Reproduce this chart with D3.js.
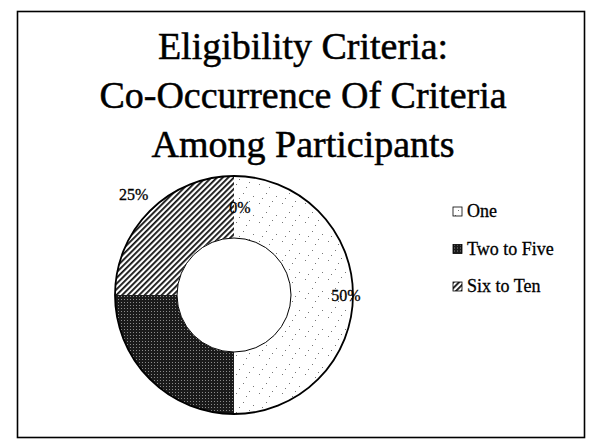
<!DOCTYPE html>
<html>
<head>
<meta charset="utf-8">
<script src="https://cdn.jsdelivr.net/npm/d3@7"></script>
<style>
  body { margin: 0; background: #fff; }
  svg { display: block; }
  text { font-family: "Liberation Serif", "Times New Roman", serif; fill: #000; }
</style>
</head>
<body>
<div id="chart"></div>
<script>
// chart values
var titleLines = ["Eligibility Criteria:", "Co-Occurrence Of Criteria", "Among Participants"];
var categories = ["", "One", "Two to Five", "Six to Ten"];   // first one is the empty 0% slice
var values = [0, 50, 25, 25];
var legendItems = ["One", "Two to Five", "Six to Ten"];

var W = 591, H = 444;
var svg = d3.select("#chart").append("svg")
    .attr("width", W)
    .attr("height", H);

var defs = svg.append("defs");

// light speckle for "One"
var pOne = defs.append("pattern").attr("id", "pOne")
    .attr("patternUnits", "userSpaceOnUse").attr("width", 23).attr("height", 19);
pOne.append("rect").attr("width", 23).attr("height", 19).attr("fill", "#fff");
[[2, 3], [15, 1], [9, 12], [19, 15], [5, 17], [12, 6]].forEach(function (p) {
    pOne.append("rect").attr("x", p[0]).attr("y", p[1]).attr("width", 1).attr("height", 1).attr("fill", "#777");
});

// dark dotted fill for "Two to Five"
var pTwo = defs.append("pattern").attr("id", "pTwo")
    .attr("patternUnits", "userSpaceOnUse").attr("width", 3).attr("height", 3);
pTwo.append("rect").attr("width", 3).attr("height", 3).attr("fill", "#1a1a1a");
pTwo.append("rect").attr("x", 1).attr("y", 1).attr("width", 1).attr("height", 1).attr("fill", "#8a8a8a");

// diagonal hatch for "Six to Ten"
var pSix = defs.append("pattern").attr("id", "pSix")
    .attr("patternUnits", "userSpaceOnUse").attr("width", 4).attr("height", 4)
    .attr("patternTransform", "rotate(45)");
pSix.append("rect").attr("width", 4).attr("height", 4).attr("fill", "#fff");
pSix.append("rect").attr("width", 1.8).attr("height", 4).attr("fill", "#111");

var fills = d3.scaleOrdinal()
    .domain(categories)
    .range(["#fff", "url(#pOne)", "url(#pTwo)", "url(#pSix)"]);

// frame
svg.append("rect")
    .attr("x", 17.5).attr("y", 11.5)
    .attr("width", 567).attr("height", 426)
    .attr("fill", "none")
    .attr("stroke", "#000")
    .attr("stroke-width", 1.6);

// title
svg.append("g").selectAll("text")
    .data(titleLines)
    .join("text")
    .attr("x", 303)
    .attr("y", function (d, i) { return 59 + i * 49; })
    .attr("text-anchor", "middle")
    .attr("font-size", 38)
    .style("stroke", "#000")
    .style("stroke-width", 0.5)
    .text(function (d) { return d; });

// donut
var cx = 234, cy = 295, outerR = 119, innerR = 57;
var pie = d3.pie().sort(null).value(function (d) { return d.value; });
var slices = pie(categories.map(function (c, i) { return { name: c, value: values[i] }; }));
var arc = d3.arc().innerRadius(innerR).outerRadius(outerR);

var g = svg.append("g").attr("transform", "translate(" + cx + "," + cy + ")");
g.selectAll("path.slice")
    .data(slices.filter(function (d) { return d.data.value > 0; }))
    .join("path")
    .attr("class", "slice")
    .attr("d", arc)
    .attr("fill", function (d) { return fills(d.data.name); });

g.append("circle").attr("r", outerR).attr("fill", "none").attr("stroke", "#000").attr("stroke-width", 1.8);
g.append("circle").attr("r", innerR).attr("fill", "#fff").attr("stroke", "#000").attr("stroke-width", 1);

// labels: where each one sits along its slice
var labelR = { "": 88, "One": 112, "Two to Five": 88, "Six to Ten": 142 };
g.selectAll("text.lbl")
    .data(slices.filter(function (d) { return d.data.name != "Two to Five"; }))
    .join("text")
    .attr("class", "lbl")
    .attr("transform", function (d) {
        var r = labelR[d.data.name];
        var c = d3.arc().innerRadius(r).outerRadius(r).centroid(d);
        var dx = d.data.value == 0 ? 6 : 0;
        return "translate(" + (c[0] + dx) + "," + c[1] + ")";
    })
    .attr("dy", "0.35em")
    .attr("text-anchor", "middle")
    .attr("font-size", 16)
    .style("stroke", "#000")
    .style("stroke-width", 0.3)
    .text(function (d) { return Math.round(d.data.value) + "%"; });

// legend
var legend = svg.append("g").attr("transform", "translate(453,0)");
var ly = d3.scalePoint().domain(legendItems).range([212, 287]);
var li = legend.selectAll("g").data(legendItems).join("g")
    .attr("transform", function (d) { return "translate(0," + ly(d) + ")"; });
li.append("rect")
    .attr("x", 0).attr("y", -5)
    .attr("width", 9).attr("height", 9)
    .attr("fill", function (d) { return fills(d); })
    .attr("stroke", "#000").attr("stroke-width", 0.8);
li.append("text")
    .attr("x", 14).attr("y", 5)
    .attr("font-size", 18)
    .style("stroke", "#000")
    .style("stroke-width", 0.3)
    .text(function (d) { return d; });
</script>
</body>
</html>
